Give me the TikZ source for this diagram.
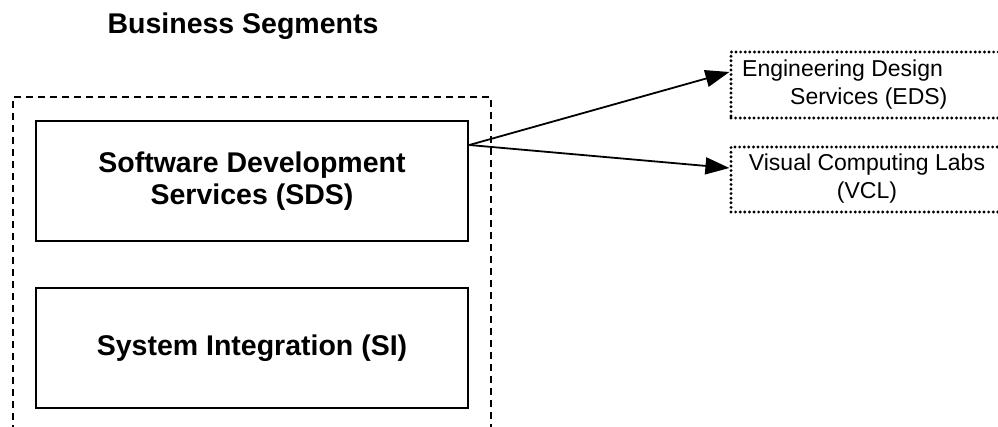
\documentclass[tikz,border=0pt]{standalone}
\usepackage{fontspec}
\setmainfont{Liberation Sans}
\usetikzlibrary{arrows.meta}
\begin{document}
\begin{tikzpicture}[x=1pt,y=-1pt,
  boldtext/.style={font=\fontsize{28.5}{32}\selectfont\bfseries},
  smalltext/.style={font=\fontsize{23}{28}\selectfont},
  solidbox/.style={draw, line width=2.6pt, minimum width=432pt, minimum height=120pt,
    inner sep=0pt, align=center, boldtext},
  groupbox/.style={draw, line width=2.4pt, dash pattern=on 7pt off 5pt,
    minimum width=478pt, minimum height=360pt, inner sep=0pt},
  dotbox/.style={draw, line width=3.2pt, dash pattern=on 0pt off 4.6pt, line cap=round,
    minimum width=280pt, inner sep=0pt},
  linkarrow/.style={line width=1.8pt, -{Triangle[length=24pt,width=17pt]}}]
\clip (0,0) rectangle (998,426);
\node[boldtext, anchor=base] (title) at (243,33) {Business Segments};
\node[groupbox] (seg) at (252,277) {};
\node[solidbox] (sds) at (252,181) {Software Development\\Services (SDS)};
\node[solidbox] (si) at (252,348) {System Integration (SI)};
\node[dotbox, minimum height=66pt] (eds) at (871,85) {};
\node[dotbox, minimum height=65pt] (vcl) at (871,179.5) {};
\node[smalltext, anchor=north west, inner sep=0pt, align=left] (edstext) at (742,59.5)
  {Engineering Design\\\hspace*{48pt}Services (EDS)};
\node[smalltext, anchor=north, inner sep=0pt, align=center] (vcltext) at (867,153.5)
  {Visual Computing Labs\\(VCL)};
\draw[linkarrow] ([yshift=36pt]sds.east) -- ([yshift=13pt]eds.west);
\draw[linkarrow] ([yshift=36pt]sds.east) -- ([yshift=11.5pt]vcl.west);
\end{tikzpicture}
\end{document}
